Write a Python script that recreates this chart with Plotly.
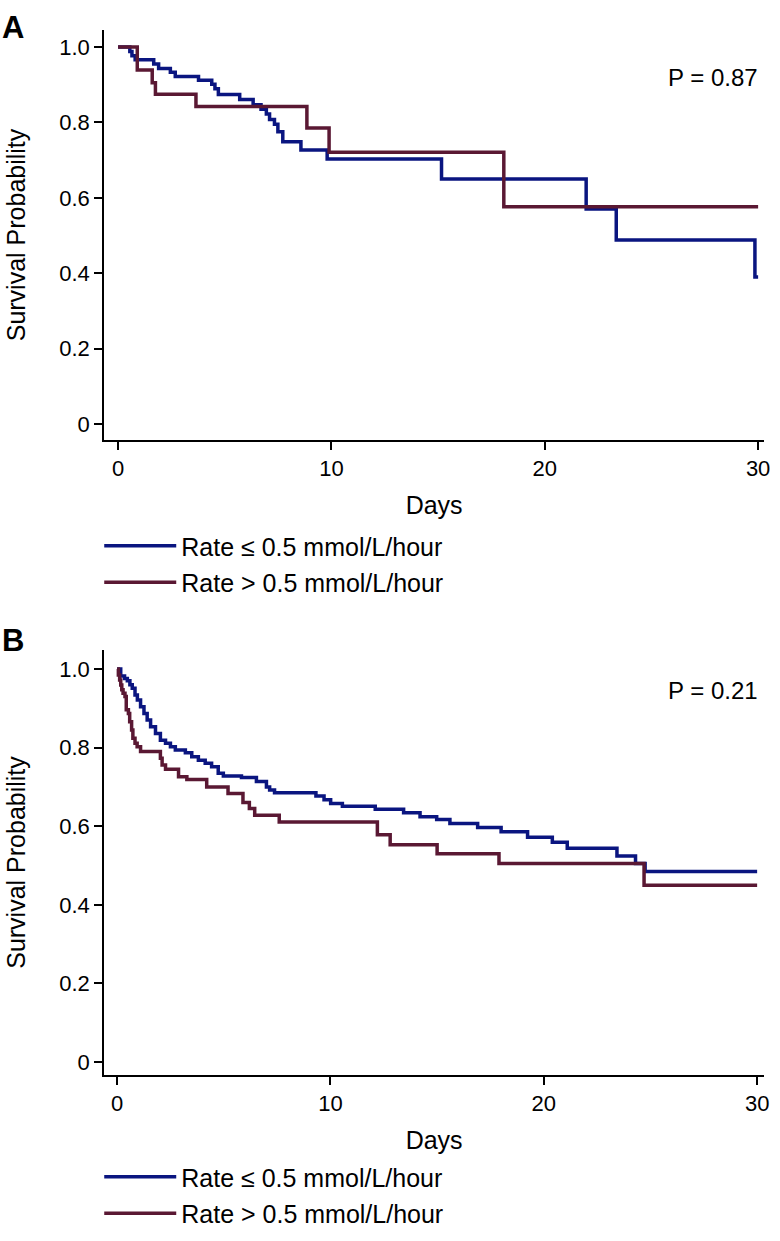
import plotly.graph_objects as go

# ---------------- data ----------------
a_low_t = [0, 0.55, 0.65, 0.8, 1.67, 1.9, 2.45, 2.68, 3.77, 4.39, 4.54, 4.7, 5.7, 6.33, 6.7,
           6.95, 7.1, 7.33, 7.49, 7.72, 8.57, 9.8, 15.16, 21.94, 23.35, 29.85, 30.0]
a_low_s = [1.0, 0.988, 0.977, 0.966, 0.955, 0.943, 0.933, 0.922, 0.912, 0.901, 0.889, 0.874, 0.861,
           0.847, 0.835, 0.822, 0.808, 0.795, 0.775, 0.749, 0.727, 0.703, 0.65, 0.570, 0.488, 0.39, 0.39]
a_high_t = [0, 0.9, 1.6, 1.75, 3.65, 8.85, 9.89, 18.08, 30.0]
a_high_s = [1.0, 0.939, 0.905, 0.875, 0.842, 0.785, 0.721, 0.576, 0.576]

b_low_t = [0, 0.17, 0.35, 0.48, 0.6, 0.71, 0.84, 0.95, 1.1, 1.26, 1.41, 1.57, 1.8, 2.03, 2.27, 2.5,
           2.73, 3.2, 3.5, 3.81, 4.13, 4.43, 4.74, 4.98, 5.83, 6.53, 7.0, 7.15, 7.38, 9.32, 9.7,
           10.01, 10.56, 12.1, 13.43, 14.2, 14.98, 15.6, 16.9, 18.0, 19.24, 20.4, 21.1, 23.43,
           24.3, 24.75, 30.0]
b_low_s = [1.0, 0.982, 0.976, 0.97, 0.96, 0.951, 0.934, 0.921, 0.904, 0.887, 0.870, 0.853, 0.836,
           0.819, 0.811, 0.802, 0.794, 0.787, 0.777, 0.768, 0.760, 0.751, 0.735, 0.728, 0.724,
           0.714, 0.70, 0.692, 0.685, 0.677, 0.667, 0.658, 0.651, 0.643, 0.634, 0.624, 0.617,
           0.607, 0.597, 0.586, 0.572, 0.559, 0.544, 0.524, 0.505, 0.485, 0.485]
b_high_t = [0, 0.06, 0.12, 0.17, 0.22, 0.28, 0.37, 0.43, 0.53, 0.59, 0.68, 0.74, 0.84, 0.94, 1.1,
            2.03, 2.11, 2.27, 2.88, 3.27, 4.2, 5.2, 5.9, 6.2, 6.45, 7.6, 12.2, 12.8, 15.0, 17.9,
            24.7, 30.0]
b_high_s = [1.0, 0.985, 0.972, 0.959, 0.947, 0.938, 0.93, 0.896, 0.887, 0.866, 0.845, 0.824, 0.811,
            0.802, 0.79, 0.773, 0.756, 0.745, 0.726, 0.719, 0.70, 0.683, 0.66, 0.645, 0.628,
            0.611, 0.578, 0.553, 0.53, 0.505, 0.45, 0.45]

series_names = ["Rate \u2264 0.5 mmol/L/hour", "Rate > 0.5 mmol/L/hour"]
p_labels = ["P = 0.87", "P = 0.21"]
panel_labels = ["A", "B"]
y_ticks = [0, 0.2, 0.4, 0.6, 0.8, 1.0]
y_ticktext = ["0", "0.2", "0.4", "0.6", "0.8", "1.0"]
x_ticks = [0, 10, 20, 30]

# ---------------- style ----------------
W, H = 780, 1241
BLUE = "#0a1580"
MAROON = "#5a1833"
FONT = "Liberation Sans, Arial, sans-serif"
TICK_FS = 22
TITLE_FS = 25
LEG_FS = 25
P_FS = 24

def py(px):
    return 1 - px / H

fig = go.Figure()

panels = [
    dict(low=(a_low_t, a_low_s), high=(a_high_t, a_high_s), xa="x", ya="y", leg="legend",
         top=30, bottom=440, zero=424, one=47, x0px=119, x30px=764, p_y=77, lab_y=8),
    dict(low=(b_low_t, b_low_s), high=(b_high_t, b_high_s), xa="x2", ya="y2", leg="legend2",
         top=650, bottom=1075, zero=1062, one=669, x0px=118, x30px=763, p_y=690, lab_y=621),
]
LEFT, RIGHT = 105, 770

for i, p in enumerate(panels):
    for j, (key, col) in enumerate([("low", BLUE), ("high", MAROON)]):
        t, s = p[key]
        fig.add_trace(go.Scatter(
            x=t, y=s, mode="lines", line=dict(color=col, width=3.5, shape="hv"),
            name=series_names[j], xaxis=p["xa"], yaxis=p["ya"], legend=p["leg"],
            legendgroup=f"g{i}{j}", showlegend=True))

    ppu = (p["zero"] - p["one"])
    ymin = -(p["bottom"] - p["zero"]) / ppu
    ymax = (p["zero"] - p["top"]) / ppu
    dpp = 30.0 / (p["x30px"] - p["x0px"])
    xmin = -(p["x0px"] - LEFT) * dpp
    xmax = 30 + (RIGHT - p["x30px"]) * dpp
    sfx = "" if i == 0 else "2"
    axis_common = dict(showline=True, linecolor="black", linewidth=2, ticks="outside",
                       ticklen=8, tickwidth=2, tickcolor="black", showgrid=False, zeroline=False,
                       tickfont=dict(family=FONT, size=TICK_FS, color="black"))
    fig.update_layout(**{
        "xaxis" + sfx: dict(domain=[LEFT / W, RIGHT / W], range=[xmin, xmax], tickvals=x_ticks,
                            anchor="y" + sfx,
                            title=dict(text="Days", font=dict(family=FONT, size=TITLE_FS, color="black"),
                                       standoff=16),
                            **axis_common),
        "yaxis" + sfx: dict(domain=[py(p["bottom"]), py(p["top"])], range=[ymin, ymax],
                            tickvals=y_ticks, ticktext=y_ticktext, anchor="x" + sfx,
                            title=dict(text="Survival Probability",
                                       font=dict(family=FONT, size=TITLE_FS, color="black"),
                                       standoff=26),
                            **axis_common),
    })
    fig.add_annotation(text=p_labels[i], xref="paper", yref="paper",
                       x=766 / W, y=py(p["p_y"]),
                       xanchor="right", yanchor="middle", showarrow=False,
                       font=dict(family=FONT, size=P_FS, color="black"))
    fig.add_annotation(text=f"<b>{panel_labels[i]}</b>", xref="paper", yref="paper",
                       x=0.0, y=py(p["lab_y"]), xanchor="left", yanchor="top", showarrow=False,
                       font=dict(family=FONT, size=31, color="black"))

legend_common = dict(x=100 / W, xanchor="left", yanchor="top", bgcolor="rgba(0,0,0,0)",
                     font=dict(family=FONT, size=LEG_FS, color="black"), itemwidth=72,
                     tracegroupgap=1, traceorder="grouped")
fig.update_layout(
    width=W, height=H, margin=dict(l=0, r=0, t=0, b=0),
    paper_bgcolor="white", plot_bgcolor="white",
    legend=dict(y=py(523), **legend_common),
    legend2=dict(y=py(1154), **legend_common),
)

fig.write_html("out.html", config={"displayModeBar": False},
               post_script="document.body.style.margin='0';document.body.style.overflow='hidden';")
